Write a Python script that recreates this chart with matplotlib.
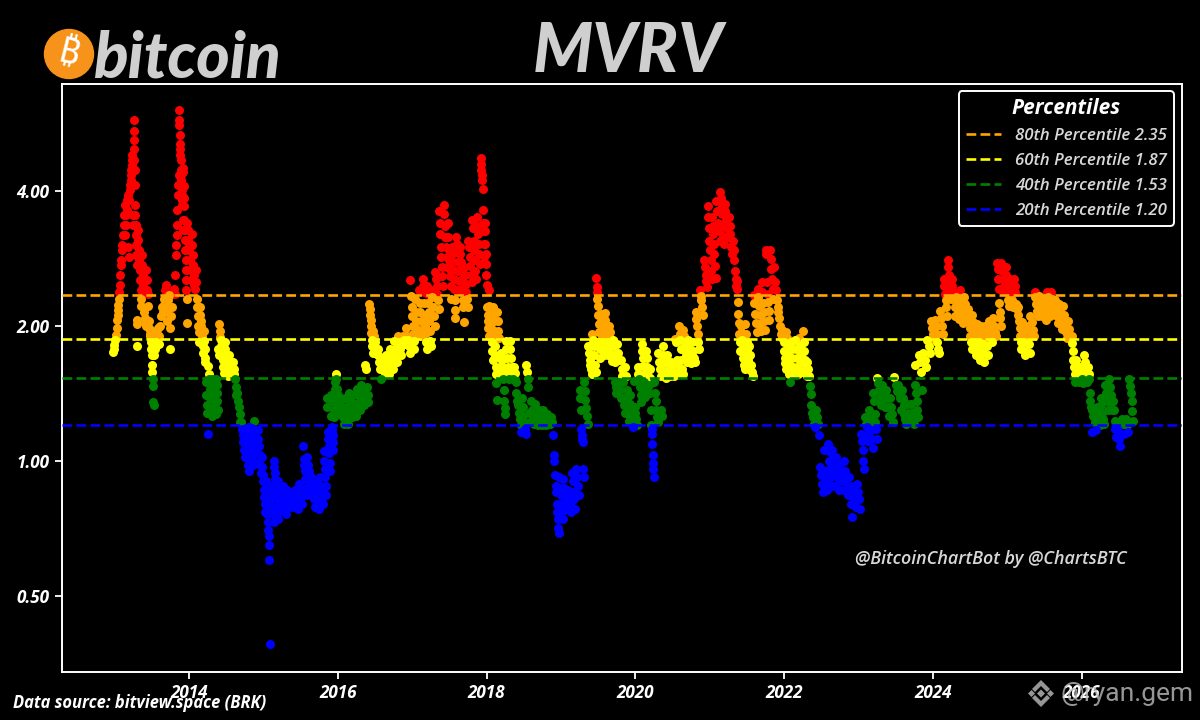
import numpy as np
import matplotlib
matplotlib.use("Agg")
import matplotlib.pyplot as plt
from matplotlib.patches import Circle, Polygon

plt.rcParams['font.family'] = ['Open Sans', 'DejaVu Sans']

# MVRV. One inner list = all readings of one 1/18 year slot
mvrv_2013 = [
    [1.75, 1.78, 1.81, 1.86, 1.91, 1.98], [2.06, 2.12, 2.17, 2.23, 2.30, 2.38, 2.47, 2.60, 2.74],
    [2.81, 2.95, 3.03, 3.19, 3.36, 3.54, 3.72], [3.19, 3.36, 3.54, 3.63, 3.82, 3.92, 3.00, 2.85],
    [3.82, 4.02, 4.13, 4.24, 4.35, 4.46, 4.58, 4.70, 4.82, 3.54, 3.36],
    [5.77, 5.45, 5.21, 4.95, 4.70, 4.46, 4.13, 3.72, 3.54, 3.36, 3.19, 3.03, 2.88, 2.74, 2.06, 2.02, 1.80],
    [3.27, 3.11, 2.95, 2.81, 2.67, 2.53, 2.41, 2.30, 2.22], [2.88, 2.74, 2.60, 2.47, 2.38, 2.15, 2.08, 2.03, 2.00],
    [2.67, 2.53, 2.41, 2.36, 2.22, 2.05, 1.98, 1.92], [1.96, 1.90, 1.84, 1.78, 1.72, 1.64, 1.58, 1.52, 1.47, 1.35, 1.33],
    [1.72, 1.78, 1.84, 1.92, 1.98], [1.82, 1.90, 2.00, 2.10, 2.20],
    [2.15, 2.23, 2.30, 2.41, 2.47], [2.05, 2.15, 2.28, 2.34, 1.78, 1.98],
    [2.10, 2.20, 2.36, 2.42], [2.36, 2.60, 2.88, 3.03, 3.19, 3.36, 3.63, 3.92, 4.13, 4.35],
    [6.07, 5.77, 5.62, 5.34, 5.10, 4.95, 4.82, 4.70, 4.46, 4.35, 4.24, 4.02, 3.92, 3.82, 3.72, 3.45, 3.27],
    [4.50, 4.40, 4.10, 3.85, 3.70, 3.45, 3.27, 3.11, 2.95, 2.81, 2.67, 2.53, 2.41, 2.30, 2.03],
]
mvrv_2014 = [
    [3.40, 3.27, 3.11, 3.03, 2.95, 2.81, 2.67, 2.53], [3.20, 3.03, 2.88, 2.74, 2.60, 2.47, 2.42],
    [2.67, 2.50, 2.30, 2.20, 2.10, 2.00, 1.94, 1.84], [2.20, 2.12, 2.05, 2.00, 1.96, 1.90, 1.80, 1.74],
    [1.95, 1.85, 1.78, 1.70, 1.66, 1.50, 1.40, 1.33, 1.28, 1.15], [1.63, 1.56, 1.52, 1.45, 1.38, 1.30, 1.26],
    [1.52, 1.50, 1.42, 1.37, 1.32, 1.27], [1.52, 1.48, 1.42, 1.36, 1.30, 1.78, 1.72, 2.02, 1.95, 1.89],
    [1.86, 1.80, 1.74, 1.68, 1.62, 1.57], [1.84, 1.78, 1.72, 1.66, 1.60, 1.55],
    [1.72, 1.66, 1.62, 1.56], [1.66, 1.60, 1.56, 1.52, 1.46, 1.40],
    [1.42, 1.36, 1.32, 1.27, 1.22], [1.22, 1.18, 1.14, 1.10, 1.06, 1.02],
    [1.18, 1.14, 1.10, 1.06, 1.02, 0.98, 0.95], [1.19, 1.14, 1.10, 1.06, 1.01, 0.98],
    [1.23, 1.18, 1.14, 1.09, 1.04, 0.99], [1.17, 1.12, 1.08, 1.03, 0.98, 0.94],
]
mvrv_2015 = [
    [1.02, 0.97, 0.93, 0.90, 0.86, 0.83, 0.80, 0.77], [0.90, 0.87, 0.85, 0.82, 0.79, 0.76, 0.73, 0.70, 0.68, 0.65, 0.60, 0.39],
    [0.88, 0.85, 0.82, 0.79, 0.76, 0.73], [1.00, 0.97, 0.94, 0.91, 0.88, 0.84, 0.82, 0.79, 0.76, 0.74],
    [0.90, 0.87, 0.84, 0.81, 0.78], [0.88, 0.85, 0.82, 0.79, 0.76],
    [0.86, 0.84, 0.81, 0.79], [0.85, 0.83, 0.81, 0.79],
    [0.86, 0.83, 0.80, 0.78], [0.89, 0.86, 0.83, 0.80],
    [1.08, 1.01, 0.98, 0.95, 0.91, 0.87, 0.84], [1.02, 0.98, 0.95, 0.92, 0.88, 0.85],
    [0.92, 0.89, 0.86, 0.82, 0.79], [0.90, 0.87, 0.83, 0.80, 0.78],
    [0.92, 0.88, 0.85, 0.82, 0.80], [1.05, 1.00, 0.96, 0.92, 0.88, 0.84, 1.32, 1.38],
    [1.16, 1.12, 1.08, 1.04, 0.99, 0.95, 1.40, 1.36, 1.26], [1.19, 1.17, 1.14, 1.10, 1.06, 1.25, 1.30, 1.35, 1.40, 1.45, 1.50, 1.56],
]
mvrv_2016 = [
    [1.52, 1.45, 1.40, 1.33, 1.27], [1.36, 1.30, 1.25, 1.21], [1.38, 1.32, 1.26, 1.21], [1.42, 1.37, 1.30, 1.25],
    [1.40, 1.34, 1.30, 1.26], [1.45, 1.40, 1.35, 1.30], [1.48, 1.43, 1.38, 1.33], [1.64, 1.60, 1.46, 1.40, 1.35],
    [2.24, 2.18, 2.12, 2.06, 2.00, 1.93, 1.86, 1.80, 1.74], [1.95, 1.90, 1.84, 1.78, 1.73], [1.78, 1.72, 1.66, 1.60, 1.52],
    [1.68, 1.62, 1.57], [1.72, 1.66, 1.60, 1.56], [1.78, 1.72, 1.66, 1.60], [1.85, 1.78, 1.72, 1.66],
    [1.90, 1.84, 1.78, 1.72], [1.90, 1.86, 1.82], [1.98, 1.90, 1.86, 1.80, 1.74],
]
mvrv_2017 = [
    [2.53, 2.33, 2.20, 2.10, 2.00, 1.92, 1.85, 1.78], [2.30, 2.15, 2.05, 1.97, 1.90], [2.41, 2.25, 2.15, 2.05, 1.95, 1.90],
    [2.55, 2.45, 2.38, 2.25, 2.12, 2.00, 1.93, 1.84, 1.78], [2.45, 2.36, 2.25, 2.15, 2.05, 1.95, 1.85, 1.80],
    [2.40, 2.32, 2.20, 2.10, 2.00], [2.64, 2.55, 2.45, 2.36, 2.28, 2.18], [3.60, 3.40, 3.20, 3.00, 2.85, 2.70, 2.58, 2.46],
    [3.72, 3.55, 3.35, 3.15, 3.00, 2.85, 2.70], [3.40, 3.15, 2.95, 2.80, 2.68, 2.58, 2.45, 2.30],
    [3.00, 2.90, 2.78, 2.66, 2.55, 2.42, 2.28, 2.17, 2.08], [3.15, 3.05, 2.92, 2.78, 2.65, 2.52, 2.40],
    [3.00, 2.90, 2.78, 2.66, 2.55, 2.42, 2.28, 2.20, 2.04], [2.70, 2.60, 2.48, 2.38, 2.30, 2.20],
    [3.10, 3.00, 2.85, 2.72, 2.60, 2.50], [3.45, 3.30, 3.10, 2.95, 2.80, 2.65, 2.54],
    [3.50, 3.35, 3.20, 3.05, 2.90, 2.75], [4.74, 4.60, 4.46, 4.35, 4.24, 4.05, 3.63, 3.40, 3.25, 3.05, 2.85],
]
mvrv_2018 = [
    [3.40, 3.25, 3.05, 2.90, 2.75, 2.60, 2.47, 2.20, 2.12, 2.05, 1.98, 1.90], [2.41, 2.22, 2.12, 2.05, 1.98, 1.90, 1.84, 1.76, 1.68],
    [2.20, 2.12, 2.05, 1.95, 1.87, 1.80, 1.72, 1.62, 1.56, 1.49, 1.37], [2.15, 2.05, 1.95, 1.88, 1.70, 1.62, 1.56],
    [1.74, 1.68, 1.62, 1.56, 1.52, 1.44, 1.36, 1.31, 1.27], [1.85, 1.78, 1.70, 1.62, 1.56, 1.52],
    [1.85, 1.78, 1.70, 1.62, 1.56, 1.52], [1.62, 1.57, 1.50, 1.42, 1.36],
    [1.33, 1.28, 1.24, 1.20, 1.16], [1.38, 1.32, 1.26, 1.22, 1.18, 1.15],
    [1.64, 1.58, 1.52, 1.46, 1.28, 1.22], [1.36, 1.30, 1.25, 1.21],
    [1.34, 1.29, 1.24, 1.20], [1.30, 1.26, 1.22, 1.20],
    [1.30, 1.26, 1.23, 1.20], [1.27, 1.24, 1.21],
    [1.25, 1.22, 1.14, 1.03, 1.00], [0.93, 0.88, 0.85, 0.80, 0.77, 0.74, 0.71, 0.69],
]
mvrv_2019 = [
    [0.92, 0.87, 0.84, 0.80, 0.77, 0.74], [0.91, 0.87, 0.84, 0.81, 0.78], [0.86, 0.83, 0.80, 0.77], [0.94, 0.90, 0.85, 0.82, 0.78],
    [0.96, 0.92, 0.88, 0.84], [1.44, 1.38, 1.30, 1.18, 1.14, 1.12, 1.10, 0.96, 0.92], [1.50, 1.43, 1.37, 1.31, 1.26, 1.21],
    [1.80, 1.74, 1.68, 1.64, 1.60, 1.56], [1.92, 1.86, 1.80, 1.72, 1.64, 1.58],
    [2.56, 2.44, 2.38, 2.30, 2.22, 2.12, 2.02, 1.94, 1.84, 1.78, 1.70], [2.13, 2.05, 1.96, 1.90, 1.84, 1.78, 1.72],
    [2.14, 2.06, 1.98, 1.90, 1.84, 1.76, 1.72], [2.00, 1.94, 1.88, 1.80, 1.72, 1.67], [1.86, 1.80, 1.72, 1.66, 1.50, 1.46, 1.42],
    [1.82, 1.74, 1.68, 1.50, 1.44, 1.38], [1.68, 1.60, 1.55, 1.50, 1.38, 1.33, 1.28],
    [1.62, 1.55, 1.44, 1.38, 1.32, 1.27, 1.23], [1.40, 1.34, 1.30, 1.26, 1.22, 1.19],
]
mvrv_2020 = [
    [1.51, 1.32, 1.28, 1.24, 1.20], [1.62, 1.56, 1.52, 1.46, 1.40, 1.35], [1.82, 1.76, 1.70, 1.63, 1.56, 1.50, 1.44, 1.39],
    [1.76, 1.70, 1.62, 1.55, 1.48, 1.42], [1.60, 1.53, 1.30, 1.20, 1.18, 1.15, 1.09, 1.03, 0.99, 0.96, 0.92],
    [1.50, 1.42, 1.36, 1.30, 1.25, 1.22], [1.74, 1.66, 1.60, 1.55, 1.30, 1.26], [1.80, 1.72, 1.65, 1.58, 1.53],
    [1.72, 1.66, 1.60, 1.55], [1.66, 1.60, 1.55], [1.87, 1.84, 1.68, 1.62, 1.57], [2.00, 1.92, 1.86, 1.78, 1.68, 1.60, 1.56],
    [1.96, 1.90, 1.80, 1.72, 1.66], [1.86, 1.78, 1.70, 1.65], [1.84, 1.76, 1.70, 1.66],
    [2.15, 2.07, 2.00, 1.92, 1.84, 1.78], [2.40, 2.33, 2.28, 2.20, 2.12], [2.80, 2.70, 2.60, 2.52, 2.44],
]
mvrv_2021 = [
    [3.70, 3.50, 3.30, 3.10, 2.95, 2.80, 2.65, 2.55], [3.50, 3.35, 3.20, 3.05, 2.90, 2.72, 2.56], [3.80, 3.60, 3.40, 3.25, 3.10],
    [3.98, 3.85, 3.70, 3.55, 3.35, 3.18, 3.05], [3.75, 3.60, 3.45, 3.30, 3.15], [3.50, 3.35, 3.20, 3.00, 2.90],
    [3.10, 2.95, 2.80, 2.65, 2.55, 2.45], [2.52, 2.42, 2.26, 2.13, 2.03, 1.92, 1.84, 1.76], [2.00, 1.93, 1.86, 1.78, 1.70, 1.64, 1.60],
    [2.02, 1.92, 1.84, 1.76, 1.68, 1.60], [1.80, 1.72, 1.64, 1.58, 1.55], [2.35, 2.25, 2.13, 2.03, 1.94],
    [2.42, 2.32, 2.22, 2.12, 2.02, 1.95], [2.50, 2.38, 2.25, 2.15, 2.05, 1.96], [2.95, 2.90, 2.50, 2.36, 2.26, 2.16, 2.06],
    [2.95, 2.82, 2.68, 2.55, 2.42, 2.30], [2.70, 2.50, 2.40, 2.28, 2.20], [2.15, 2.08, 2.00, 1.92, 1.88],
]
mvrv_2022 = [
    [1.96, 1.90, 1.84, 1.76, 1.70, 1.65, 1.60], [1.94, 1.88, 1.82, 1.74, 1.64, 1.56, 1.50], [1.84, 1.78, 1.70, 1.62, 1.56],
    [1.86, 1.78, 1.70, 1.62, 1.56], [1.88, 1.80, 1.72, 1.65, 1.58], [1.95, 1.84, 1.76, 1.68, 1.60, 1.55],
    [1.66, 1.60, 1.55, 1.47, 1.41], [1.33, 1.28, 1.25, 1.21, 1.19], [1.30, 1.25, 1.21, 1.14],
    [0.97, 0.93, 0.89, 0.85], [1.06, 0.95, 0.92, 0.89, 0.86], [1.09, 1.05, 1.00, 0.96, 0.92, 0.88],
    [1.06, 1.02, 0.97, 0.93, 0.88], [1.02, 0.98, 0.94, 0.90, 0.86], [0.98, 0.94, 0.90, 0.86],
    [1.00, 0.95, 0.91, 0.87, 0.84], [0.92, 0.88, 0.84, 0.80, 0.75], [0.88, 0.85, 0.82, 0.79],
]
mvrv_2023 = [
    [0.89, 0.85, 0.82, 0.78], [1.15, 1.11, 1.06, 1.00, 0.96], [1.25, 1.21, 1.19, 1.15, 1.11], [1.30, 1.24, 1.20, 1.17, 1.12, 1.07],
    [1.42, 1.36, 1.27, 1.22, 1.18, 1.12], [1.53, 1.49, 1.44, 1.38, 1.33], [1.48, 1.43, 1.38, 1.32], [1.44, 1.38, 1.32, 1.26],
    [1.38, 1.32, 1.27, 1.22], [1.54, 1.48, 1.43], [1.48, 1.42, 1.38, 1.30], [1.44, 1.38, 1.33, 1.27, 1.24, 1.21],
    [1.34, 1.28, 1.24, 1.22], [1.34, 1.28, 1.24, 1.21], [1.64, 1.48, 1.42, 1.36, 1.30, 1.25], [1.72, 1.66, 1.58, 1.44],
    [1.74, 1.68, 1.62], [1.86, 1.80, 1.74],
]
mvrv_2024 = [
    [2.05, 1.98, 1.92, 1.87], [2.06, 2.00, 1.92, 1.84, 1.78, 1.74], [2.16, 2.08, 2.00, 1.92], [2.55, 2.45, 2.36, 2.28, 2.20, 2.10],
    [2.81, 2.70, 2.60, 2.50, 2.40, 2.30], [2.55, 2.45, 2.38, 2.30, 2.20, 2.10], [2.32, 2.25, 2.15, 2.07], [2.40, 2.30, 2.20, 2.10, 2.03],
    [2.32, 2.24, 2.14, 2.05], [2.18, 2.08, 1.98, 1.90, 1.84, 1.78], [2.12, 2.04, 1.96, 1.88, 1.80, 1.72], [2.02, 1.96, 1.90, 1.84, 1.76, 1.68],
    [2.00, 1.94, 1.88, 1.82, 1.74, 1.66], [2.00, 1.94, 1.88, 1.80, 1.72], [2.05, 1.96, 1.90, 1.84], [2.08, 2.00, 1.94, 1.90],
    [2.77, 2.68, 2.55, 2.42, 2.25, 2.15, 2.08, 2.00], [2.76, 2.65, 2.55, 2.45, 2.38],
]
mvrv_2025 = [
    [2.70, 2.60, 2.48, 2.38, 2.28, 2.22], [2.55, 2.45, 2.38, 2.28, 2.20], [2.55, 2.45, 2.38, 2.24, 2.18],
    [2.20, 2.12, 2.05, 1.98, 1.90, 1.84, 1.78], [2.04, 1.96, 1.90, 1.84, 1.76, 1.72], [2.00, 1.94, 1.88, 1.82, 1.74],
    [2.10, 2.04, 1.96, 1.90], [2.38, 2.32, 2.24, 2.16, 2.10], [2.33, 2.25, 2.17, 2.10], [2.28, 2.20, 2.12, 2.06],
    [2.38, 2.32, 2.24, 2.16, 2.10], [2.38, 2.30, 2.22, 2.14], [2.28, 2.20, 2.10, 2.03], [2.24, 2.15, 2.05, 1.97],
    [2.22, 2.12, 2.02, 1.94, 1.88], [2.05, 1.97, 1.90], [1.90, 1.83, 1.76, 1.68, 1.62, 1.56, 1.50], [1.68, 1.62, 1.56, 1.50],
]
mvrv_2026 = [
    [1.62, 1.57, 1.52, 1.49], [1.72, 1.66, 1.60, 1.55, 1.50], [1.62, 1.56, 1.52, 1.42, 1.36, 1.32, 1.16], [1.30, 1.26, 1.22, 1.17],
    [1.32, 1.28, 1.24, 1.20], [1.38, 1.33, 1.28, 1.24, 1.21], [1.48, 1.42, 1.36, 1.30], [1.52, 1.46, 1.40, 1.35, 1.30],
    [1.36, 1.30, 1.23, 1.18, 1.13], [1.22, 1.17, 1.12, 1.08], [1.24, 1.21, 1.15], [1.24, 1.20, 1.16],
    [1.52, 1.47, 1.42, 1.36, 1.29, 1.23],
]

by_year = {2013: mvrv_2013, 2014: mvrv_2014, 2015: mvrv_2015, 2016: mvrv_2016, 2017: mvrv_2017,
           2018: mvrv_2018, 2019: mvrv_2019, 2020: mvrv_2020, 2021: mvrv_2021, 2022: mvrv_2022,
           2023: mvrv_2023, 2024: mvrv_2024, 2025: mvrv_2025, 2026: mvrv_2026}

percentile_names = ['80th', '60th', '40th', '20th']
percentile_values = [2.35, 1.87, 1.53, 1.20]
percentile_colors = ['orange', 'yellow', 'green', 'blue']
year_ticks = [2014, 2016, 2018, 2020, 2022, 2024, 2026]
value_ticks = [0.5, 1, 2, 4]

# flatten the slots into dates and values, readings spread over their slot
dates = []
values = []
for year, slots in by_year.items():
    for i, slot in enumerate(slots):
        for j, v in enumerate(slot):
            dates.append(year + (i + (j + 0.5) / len(slot) - 0.5) / 18)
            values.append(v)
dates = np.array(dates)
values = np.array(values)

# colour follows the band the value falls in
edges = [np.inf] + percentile_values + [0]
band_colors = ['red'] + percentile_colors

fig = plt.figure(figsize=(12, 7.2), dpi=100, facecolor='black')
ax = fig.add_axes([62 / 1200, 48 / 720, 1120 / 1200, 588 / 720], facecolor='black')

for k, col in enumerate(band_colors):
    mask = (values < edges[k]) & (values >= edges[k + 1])
    ax.scatter(dates[mask], values[mask], s=42, color=col, linewidths=0, zorder=2)

for name, val, col in zip(percentile_names, percentile_values, percentile_colors):
    ax.axhline(val, color=col, linestyle='--', linewidth=1.9, zorder=3,
               label=f'{name} Percentile {val:.2f}')

ax.set_yscale('log', base=2)
ax.set_xlim(2012.29, 2027.35)
ax.set_ylim(0.338, 6.93)
ax.set_xticks(year_ticks)
ax.set_xticklabels([str(y) for y in year_ticks])
ax.set_yticks(value_ticks)
ax.set_yticklabels([f'{v:.2f}' for v in value_ticks])
ax.yaxis.set_minor_locator(plt.NullLocator())
ax.tick_params(colors='white', length=5, width=1.3, pad=4)
for lab in ax.get_xticklabels() + ax.get_yticklabels():
    lab.set_fontsize(12.3)
    lab.set_fontweight('bold')
    lab.set_fontstyle('italic')
for side in ax.spines.values():
    side.set_color('white')
    side.set_linewidth(1.4)

leg = ax.legend(loc='upper right', bbox_to_anchor=(0.9925, 0.9875), borderaxespad=0, facecolor='black',
                edgecolor='white', framealpha=1, labelcolor='#d8d8d8', handlelength=2.1,
                prop={'size': 12.2, 'style': 'italic', 'weight': 'semibold'},
                title='Percentiles', labelspacing=0.53)
leg.get_frame().set_linewidth(1.4)
leg.get_title().set_color('white')
leg.get_title().set_fontsize(15)
leg.get_title().set_fontweight('bold')
leg.get_title().set_fontstyle('italic')

# header
fig.text(628 / 1200, 1 - 72 / 720, 'MVRV', color='#cfcfcf', fontsize=49, fontweight=900,
         fontstyle='italic', family=['Lato', 'Open Sans'], ha='center', va='baseline')
fig.text(94 / 1200, 1 - 78 / 720, 'bitcoin', color='#cfcfcf', fontsize=46, fontweight=900,
         fontstyle='italic', family=['Lato', 'Open Sans'], ha='left', va='baseline')
fig.add_artist(Circle((0.69, 7.2 - 0.54), 0.245, transform=fig.dpi_scale_trans, color='#f7931a'))
fig.text(69 / 1200, 1 - 54 / 720, '\u20bf', color='white', fontsize=26, fontweight='bold',
         family=['Noto Sans', 'Roboto', 'Inter', 'Lato', 'Liberation Sans', 'Noto Sans CJK SC', 'DejaVu Sans'],
         rotation=-14, ha='center', va='center')

# footer and credits
fig.text(13 / 1200, 1 - 703 / 720, 'Data source: bitview.space (BRK)', color='white', fontsize=11.9,
         fontweight='bold', fontstyle='italic', ha='left', va='center')
fig.text(855 / 1200, 1 - 559 / 720, '@BitcoinChartBot by @ChartsBTC', color='#d8d8d8', fontsize=12.9,
         fontweight='semibold', fontstyle='italic', ha='left', va='center')

# watermark
fig.text(1060 / 1200, 1 - 694 / 720, '@ryan.gem', color='#bdbdbd', alpha=0.8, fontsize=19,
         family=['Roboto', 'DejaVu Sans'], ha='left', va='center')
logo_parts = [
    [(1041, 680), (1050, 689), (1047, 692), (1041, 686), (1035, 692), (1032, 689)],
    [(1041, 707), (1050, 698), (1047, 695), (1041, 701), (1035, 695), (1032, 698)],
    [(1037, 693.5), (1041, 689.5), (1045, 693.5), (1041, 697.5)],
    [(1028, 693.5), (1031.5, 690), (1035, 693.5), (1031.5, 697)],
    [(1047, 693.5), (1050.5, 690), (1054, 693.5), (1050.5, 697)],
]
for part in logo_parts:
    pts = [(x / 1200, 1 - y / 720) for x, y in part]
    fig.add_artist(Polygon(pts, closed=True, transform=fig.transFigure, color='#bdbdbd', alpha=0.8, lw=0))

fig.savefig('out.png', dpi=100, facecolor='black')
